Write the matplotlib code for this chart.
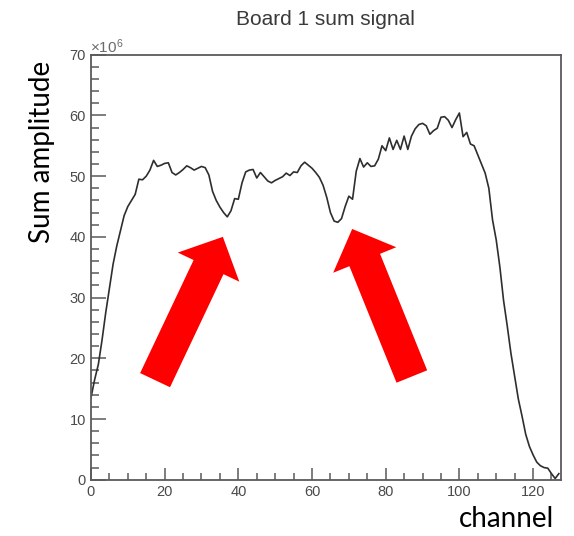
import matplotlib
matplotlib.use("Agg")
import matplotlib.pyplot as plt
from matplotlib.ticker import MultipleLocator

# Summed amplitude per channel (units of 1e6)
channels = list(range(128))
sum_amplitude = [
    13.5, 16.5, 19.0, 23.0, 27.5, 31.5, 35.5, 38.5, 41.0, 43.5,
    45.0, 46.0, 47.0, 49.5, 49.4, 50.0, 51.0, 52.6, 51.6, 51.8,
    52.1, 52.2, 50.6, 50.2, 50.6, 51.1, 51.7, 51.4, 51.0, 51.3,
    51.6, 51.4, 50.2, 47.5, 46.0, 44.9, 44.0, 43.3, 44.3, 46.3,
    46.2, 48.9, 50.7, 51.0, 51.1, 49.7, 50.6, 49.9, 49.2, 48.9,
    49.3, 49.6, 49.9, 50.5, 50.1, 50.7, 50.6, 51.7, 52.3, 51.8,
    51.3, 50.6, 49.8, 48.5, 46.5, 44.0, 42.6, 42.4, 43.0, 45.0,
    46.7, 46.2, 50.8, 52.9, 51.5, 52.2, 51.6, 51.7, 52.8, 55.0,
    54.2, 56.3, 54.4, 55.9, 54.4, 56.6, 54.4, 56.6, 57.8, 58.5,
    58.7, 58.3, 56.9, 57.5, 57.9, 59.7, 59.8, 59.2, 58.0, 59.3,
    60.4, 56.5, 57.2, 55.3, 55.0, 53.5, 52.0, 50.5, 48.0, 42.8,
    39.5, 35.0, 29.5, 25.3, 20.8, 17.0, 13.3, 10.5, 7.5, 5.5,
    4.1, 2.9, 2.3, 2.0, 1.9, 1.0, 0.2, 1.0,
]

x_ticks = [0, 20, 40, 60, 80, 100, 120]
y_ticks = [0, 10, 20, 30, 40, 50, 60, 70]

# Callout arrows pointing at the two dips: (tail, tip) in channel / amplitude units
arrow_tails = [(17.4, 16.4), (87.1, 17.0)]
arrow_tips = [(35.8, 40.0), (70.9, 41.3)]

frame_color = "#5a5a5a"
text_color = "#4a4a4a"

fig = plt.figure(figsize=(5.74, 5.36), dpi=100)
ax = fig.add_axes([0.1585, 0.1050, 0.8183, 0.7929])

ax.plot(channels, sum_amplitude, color="#2e2e2e", lw=1.2)

ax.set_xlim(0, 127.5)
ax.set_ylim(0, 70)
ax.set_xticks(x_ticks)
ax.set_yticks(y_ticks)
ax.xaxis.set_minor_locator(MultipleLocator(5))
ax.yaxis.set_minor_locator(MultipleLocator(2))

for s in ax.spines.values():
    s.set_color(frame_color)
    s.set_linewidth(1.3)

ax.tick_params(axis="both", which="both", direction="in", color=frame_color,
               width=1.1, labelcolor=text_color, labelsize=10.5,
               top=False, right=False)
ax.tick_params(axis="y", which="major", length=10.5, pad=3.5)
ax.tick_params(axis="y", which="minor", length=5.6)
ax.tick_params(axis="x", which="major", length=9.0, pad=3.5)
ax.tick_params(axis="x", which="minor", length=4.7)
for lab in ax.get_xticklabels() + ax.get_yticklabels():
    lab.set_fontfamily("Liberation Sans")

# exponent marker above the y axis
ax.text(-0.003, 1.004, r"$\mathregular{\times10^{6}}$", transform=ax.transAxes,
        ha="left", va="baseline", fontsize=11, color="#6a6a6a",
        family="Liberation Sans")

fig.text(325 / 574, 1 - 25 / 536, "Board 1 sum signal", ha="center",
         va="baseline", fontsize=15, color="#3a3a3a", family="Liberation Sans")

fig.text(42 / 574, 1 - 152 / 536, "Sum amplitude", rotation=90, ha="center",
         va="center", fontsize=20, color="black", family="Lato")
fig.text(506 / 574, 1 - 527 / 536, "channel", ha="center", va="baseline",
         fontsize=20, color="black", family="Lato")

for tail, tip in zip(arrow_tails, arrow_tips):
    ax.annotate("", xy=tip, xytext=tail,
                arrowprops=dict(arrowstyle="simple,head_length=2.41,head_width=4.9,tail_width=2.38",
                                mutation_scale=10, color="#ff0000", lw=0,
                                shrinkA=0, shrinkB=0),
                annotation_clip=False)

fig.savefig("out.png", dpi=100)
